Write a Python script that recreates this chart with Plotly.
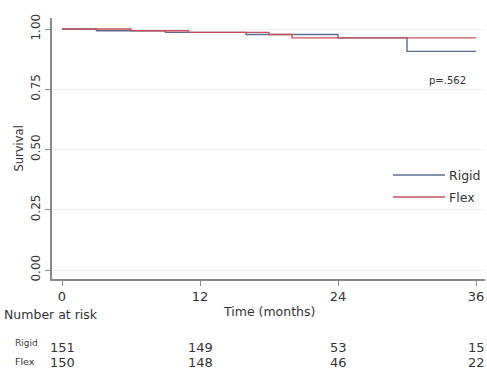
import plotly.graph_objects as go

# Data
rigid_time = [0, 3, 9, 16, 24, 30, 36]
rigid_surv = [1.0, 0.993, 0.986, 0.977, 0.963, 0.907, 0.907]
flex_time = [0, 6, 11, 18, 20, 36]
flex_surv = [1.0, 0.993, 0.986, 0.977, 0.963, 0.963]

risk_times = [0, 12, 24, 36]
rigid_risk = [151, 149, 53, 15]
flex_risk = [150, 148, 46, 22]

x_ticks = [0, 12, 24, 36]
y_ticks = [0.0, 0.25, 0.5, 0.75, 1.0]
y_ticklabels = ["0.00", "0.25", "0.50", "0.75", "1.00"]

RIGID_C = "#5a6f8f"
FLEX_C = "#c8505a"
TXT = "#333333"
FONT = "DejaVu Sans"

W, H = 487, 381
L, R, T, B = 52, 485, 18, 279  # plot area pixel bounds


def px(xp):
    return (xp - L) / (R - L)


def py(yp):
    return (B - yp) / (B - T)


fig = go.Figure()
fig.add_trace(go.Scatter(x=rigid_time, y=rigid_surv, mode="lines", line_shape="hv",
                         line=dict(color=RIGID_C, width=1.4), name="Rigid", showlegend=False))
fig.add_trace(go.Scatter(x=flex_time, y=flex_surv, mode="lines", line_shape="hv",
                         line=dict(color=FLEX_C, width=1.4), name="Flex", showlegend=False))

ann = []
# risk table
for t, r, f in zip(risk_times, rigid_risk, flex_risk):
    ann.append(dict(x=t, y=py(347), xref="x", yref="paper", text=str(r), showarrow=False,
                    font=dict(size=13, color=TXT, family=FONT), xanchor="center", yanchor="middle"))
    ann.append(dict(x=t, y=py(362), xref="x", yref="paper", text=str(f), showarrow=False,
                    font=dict(size=13, color=TXT, family=FONT), xanchor="center", yanchor="middle"))
ann.append(dict(x=px(26.5), y=py(343), xref="paper", yref="paper", text="Rigid", showarrow=False,
                font=dict(size=9, color="#4a3a3a", family=FONT), xanchor="center", yanchor="middle"))
ann.append(dict(x=px(25), y=py(361), xref="paper", yref="paper", text="Flex", showarrow=False,
                font=dict(size=9.5, color=TXT, family=FONT), xanchor="center", yanchor="middle"))
ann.append(dict(x=px(2), y=py(314), xref="paper", yref="paper", text="Number at risk", showarrow=False,
                font=dict(size=12.5, color=TXT, family=FONT), xanchor="left", yanchor="middle"))
# axis titles
ann.append(dict(x=0.5, y=py(311), xref="paper", yref="paper", text="Time (months)", showarrow=False,
                font=dict(size=12.5, color=TXT, family=FONT), xanchor="center", yanchor="middle"))
ann.append(dict(x=px(18), y=0.5, xref="paper", yref="paper", text="Survival", showarrow=False,
                textangle=-90, font=dict(size=11.5, color=TXT, family=FONT), xanchor="center", yanchor="middle"))
# p-value
ann.append(dict(x=px(447), y=py(80), xref="paper", yref="paper", text="p=.562", showarrow=False,
                font=dict(size=10, color=TXT, family=FONT), xanchor="center", yanchor="middle"))
# legend texts
ann.append(dict(x=px(447), y=py(175), xref="paper", yref="paper", text="Rigid", showarrow=False,
                font=dict(size=12.5, color=TXT, family=FONT), xanchor="left", yanchor="middle"))
ann.append(dict(x=px(447), y=py(197), xref="paper", yref="paper", text="Flex", showarrow=False,
                font=dict(size=12.5, color=TXT, family=FONT), xanchor="left", yanchor="middle"))

shapes = [
    dict(type="line", xref="paper", yref="paper", x0=px(393), x1=px(445), y0=py(175), y1=py(175),
         line=dict(color=RIGID_C, width=1.4)),
    dict(type="line", xref="paper", yref="paper", x0=px(393), x1=px(445), y0=py(197), y1=py(197),
         line=dict(color=FLEX_C, width=1.4)),
]

fig.update_layout(
    width=W, height=H,
    margin=dict(l=L, r=W - R, t=T, b=H - B),
    paper_bgcolor="white", plot_bgcolor="white",
    showlegend=False,
    annotations=ann, shapes=shapes,
    font=dict(family=FONT, color=TXT),
)
fig.update_xaxes(
    range=[-10 / 11.5, 36 + 9 / 11.5], tickvals=x_ticks, ticktext=[str(v) for v in x_ticks],
    showline=True, linecolor="#8a8a8a", linewidth=1.5, ticks="outside", ticklen=5,
    tickcolor="#8a8a8a", tickwidth=1, showgrid=False, zeroline=False,
    tickfont=dict(size=13, color=TXT, family=FONT),
)
fig.update_yaxes(
    range=[-9 / 241, 1 + 11 / 241], tickvals=y_ticks, ticktext=y_ticklabels, tickangle=-90,
    showline=True, linecolor="#8a8a8a", linewidth=1.5, ticks="outside", ticklen=5,
    tickcolor="#8a8a8a", tickwidth=1, showgrid=True, gridcolor="#efefef", gridwidth=1,
    zeroline=False, tickfont=dict(size=12, color=TXT, family=FONT),
)

fig.write_html("out.html", config={"displayModeBar": False},
               post_script="document.body.style.margin='0';document.body.style.overflow='hidden';")
